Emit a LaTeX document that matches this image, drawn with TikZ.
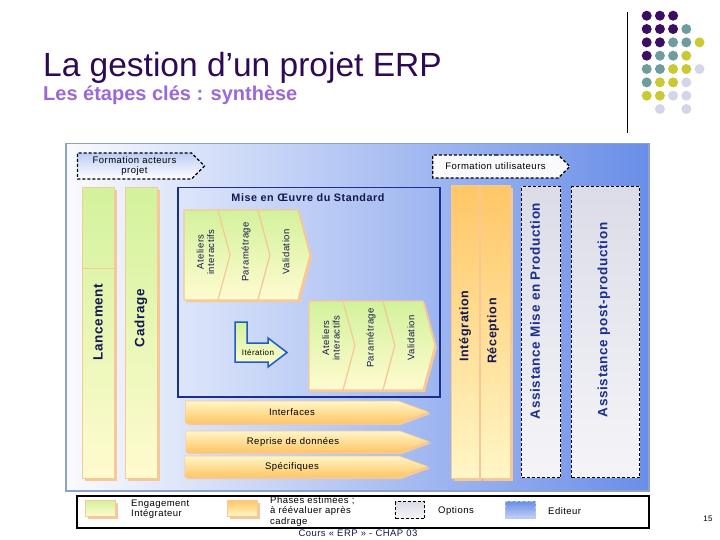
\documentclass[tikz,border=0pt]{standalone}
\usepackage{fontspec}
\setmainfont{Liberation Sans}
\newfontfamily\slidefont[LetterSpace=5]{Liberation Sans}
\usetikzlibrary{positioning,shapes.symbols,shadows}

\definecolor{titlepurple}{HTML}{2E0A56}
\definecolor{subpurple}{HTML}{9A68D8}
\definecolor{dotpurple}{HTML}{3A0E62}
\definecolor{dotteal}{HTML}{6F9D9D}
\definecolor{dotolive}{HTML}{C9C934}
\definecolor{dotlilac}{HTML}{D5D5E9}
\definecolor{peach}{HTML}{F6C898}
\definecolor{lime}{HTML}{D3F29C}
\definecolor{paleyellow}{HTML}{FFFBD0}
\definecolor{apricot}{HTML}{FFC666}
\definecolor{cream}{HTML}{FFF6C6}
\definecolor{navy}{HTML}{1B2F8C}
\definecolor{inknavy}{HTML}{14184F}
\definecolor{panelblue}{HTML}{6A8EE8}
\definecolor{panelrim}{HTML}{8EA1CB}
\definecolor{optgray}{HTML}{DCDCE8}
\definecolor{itblue}{HTML}{1E5CC4}

\tikzset{
  panel/.style={
    draw=panelrim,
    line width=1.5pt,
    anchor=north west,
    inner sep=0pt,
    left color=white!96!panelblue,
    right color=panelblue
  },
  phase/.style={
    draw=peach,
    line width=0.8pt,
    anchor=north west,
    inner sep=0pt,
    top color=lime,
    bottom color=paleyellow,
    drop shadow={shadow xshift=3pt, shadow yshift=-3pt, fill=peach, opacity=1}
  },
  estimate/.style={
    phase,
    top color=apricot,
    bottom color=cream
  },
  option/.style={
    draw,
    dash pattern=on 3pt off 2pt,
    line width=1.2pt,
    anchor=north west,
    inner sep=0pt,
    top color=optgray,
    bottom color=white!70!optgray
  },
  chevron/.style={
    shape=signal,
    signal to=east,
    signal from=west,
    signal pointer angle=150,
    draw=peach,
    line width=1.2pt,
    inner sep=0pt,
    top color=lime,
    bottom color=paleyellow,
    minimum width=52pt,
    minimum height=90pt,
    drop shadow={shadow xshift=2pt, shadow yshift=-2pt, fill=peach, opacity=1}
  },
  firstchevron/.style={
    chevron,
    signal from=nowhere
  },
  stream/.style={
    shape=signal,
    signal to=east,
    signal pointer angle=40,
    draw=peach,
    line width=0.6pt,
    inner sep=0pt,
    top color=cream,
    bottom color=apricot,
    minimum width=243pt,
    minimum height=21pt,
    drop shadow={shadow xshift=2pt, shadow yshift=-2pt, fill=peach, opacity=1}
  },
  training/.style={
    shape=signal,
    signal to=east,
    signal pointer angle=90,
    draw,
    dash pattern=on 3pt off 2pt,
    line width=1.2pt,
    inner sep=0pt,
    align=center,
    font=\slidefont\fontsize{9.5}{10.5}\selectfont
  },
  bigtext/.style={
    rotate=90,
    font=\slidefont\bfseries\fontsize{13.5}{15}\selectfont,
    text=inknavy
  },
  steptext/.style={
    rotate=90,
    align=center,
    font=\slidefont\fontsize{9.5}{10.5}\selectfont,
    text=inknavy
  },
  legtext/.style={
    anchor=west,
    align=left,
    inner sep=0pt,
    font=\slidefont\fontsize{9.5}{10.5}\selectfont
  }
}

\begin{document}
\begin{tikzpicture}[x=1pt, y=-1pt, font=\slidefont\fontsize{9.5}{11}\selectfont]
  \useasboundingbox (0,0) rectangle (720,540);
  \fill[white] (0,0) rectangle (720,540);

  % title block
  \node[anchor=base west, inner sep=0pt, font=\rmfamily\fontsize{33.5}{36}\selectfont, text=titlepurple] (title) at (43,77) {La gestion d’un projet ERP};
  \node[anchor=base west, inner sep=0pt, font=\rmfamily\bfseries\fontsize{20}{22}\selectfont, text=subpurple] (subtitle) at (43,101) {Les étapes clés : synthèse};

  % decoration top right
  \draw[line width=0.8pt] (627,12) -- (627,133);
  \foreach \c/\r/\col in {0/0/dotpurple,1/0/dotpurple,2/0/dotpurple,
      0/1/dotpurple,1/1/dotpurple,2/1/dotpurple,3/1/dotteal,
      0/2/dotpurple,1/2/dotpurple,2/2/dotteal,3/2/dotteal,4/2/dotolive,
      0/3/dotpurple,1/3/dotteal,2/3/dotteal,3/3/dotolive,
      0/4/dotteal,1/4/dotteal,2/4/dotolive,3/4/dotolive,4/4/dotlilac,
      0/5/dotteal,1/5/dotolive,2/5/dotolive,3/5/dotlilac,
      0/6/dotolive,1/6/dotolive,2/6/dotlilac,3/6/dotlilac,
      1/7/dotlilac,3/7/dotlilac}
    \fill[\col] ({646.7+13.2*\c},{15.7+13.33*\r}) circle[radius=5pt];

  % background
  \node[panel, minimum width=583pt, minimum height=347pt] (panel) at (65,143) {};

  % trainings
  \node[training, top color=white!55!panelblue, bottom color=white, minimum width=127pt, minimum height=26pt] (formacteurs) at (134.5,166) {Formation acteurs\\projet};
  \node[training, fill=white!85!optgray, minimum width=137pt, minimum height=23pt] (formusers) at (495.5,166.5) {Formation utilisateurs};

  % integrator phases
  \node[phase, minimum width=32pt, minimum height=291pt] (lancement) at (82,187) {};
  \draw[peach, line width=0.6pt] (82,268) -- (114,268);
  \node[bigtext] at (98,322) {Lancement};
  \node[phase, minimum width=32pt, minimum height=291pt] (cadrage) at (125,187) {};
  \node[bigtext] at (141,318) {Cadrage};

  % standard
  \node[draw=navy, line width=1.5pt, anchor=north west, inner sep=0pt, minimum width=262pt, minimum height=209pt] (standard) at (177,187) {};
  \node[font=\slidefont\bfseries\fontsize{10.8}{12}\selectfont, text=inknavy] (stdtitle) at (308,198) {Mise en Œuvre du Standard};

  \node[firstchevron] (ateliersA) at (204,255) {};
  \node[chevron] (paramA) at (244,255) {};
  \node[chevron] (validA) at (284,255) {};
  \node[steptext] at (205.5,252) {Ateliers\\interactifs};
  \node[steptext] at (246,252) {Paramétrage};
  \node[steptext] at (286,252) {Validation};

  \node[firstchevron, minimum height=89pt] (ateliersB) at (329,345.5) {};
  \node[chevron, minimum height=89pt] (paramB) at (369,345.5) {};
  \node[chevron, minimum height=89pt] (validB) at (409,345.5) {};
  \node[steptext] at (331,338) {Ateliers\\interactifs};
  \node[steptext] at (371,338) {Paramétrage};
  \node[steptext] at (411,338) {Validation};

  \draw[itblue, line width=1.5pt, top color=lime, bottom color=paleyellow]
    (235,322) -- (247,322) -- (247,343) -- (268,343) -- (268,338) -- (287,352.5)
    -- (268,367) -- (268,362) -- (235,362) -- cycle;
  \node[font=\slidefont\fontsize{8}{9}\selectfont, inner sep=0pt] (iteration) at (258,353) {Itération};

  % streams
  \node[stream, minimum height=22pt] (interfaces) at (292,412) {Interfaces};
  \node[stream] (reprise) at (293,441.5) {Reprise de données};
  \node[stream] (specifiques) at (292,466.5) {Spécifiques};

  % estimated phases
  \node[estimate, minimum width=28pt, minimum height=293pt] (integration) at (451,185) {};
  \node[estimate, minimum width=30pt, minimum height=293pt] (reception) at (480,185) {};
  \node[bigtext, font=\slidefont\bfseries\fontsize{12.5}{14}\selectfont] at (465,326) {Intégration};
  \node[bigtext, font=\slidefont\bfseries\fontsize{12.5}{14}\selectfont] at (493,331) {Réception};

  % options
  \node[option, minimum width=39pt, minimum height=291pt] (assistmep) at (521,186) {};
  \node[bigtext, text=navy] at (535,311) {Assistance Mise en Production};
  \node[option, minimum width=68pt, minimum height=291pt] (assistpost) at (571,186) {};
  \node[bigtext, text=navy] at (604,320) {Assistance post-production};

  % legend
  \node[draw, line width=1.6pt, anchor=north west, inner sep=0pt, minimum width=572pt, minimum height=32pt] (legend) at (76,495) {};
  \node[phase, minimum width=30pt, minimum height=16pt] (keyengage) at (85,500) {};
  \node[legtext] at (131,509) {Engagement\\Intégrateur};
  \node[estimate, minimum width=30pt, minimum height=16pt] (keyphases) at (227,500) {};
  \node[legtext, anchor=north west] at (270,496) {Phases estimées ;\\à réévaluer après\\cadrage};
  \node[option, minimum width=29pt, minimum height=17pt] (keyoptions) at (395,501) {};
  \node[legtext] at (438,511) {Options};
  \node[draw=white!50!panelblue, dash pattern=on 3pt off 2pt, line width=1pt, anchor=north west, inner sep=0pt, top color=panelblue, bottom color=white!60!panelblue, minimum width=30pt, minimum height=17pt] (keyeditor) at (505,501) {};
  \node[legtext] at (548,511) {Editeur};

  % footer
  \node[text=inknavy] (footer) at (358,533) {Cours « ERP » - CHAP 03};
  \node[font=\slidefont\fontsize{8}{9}\selectfont] (pagenum) at (708,519) {15};
\end{tikzpicture}
\end{document}
